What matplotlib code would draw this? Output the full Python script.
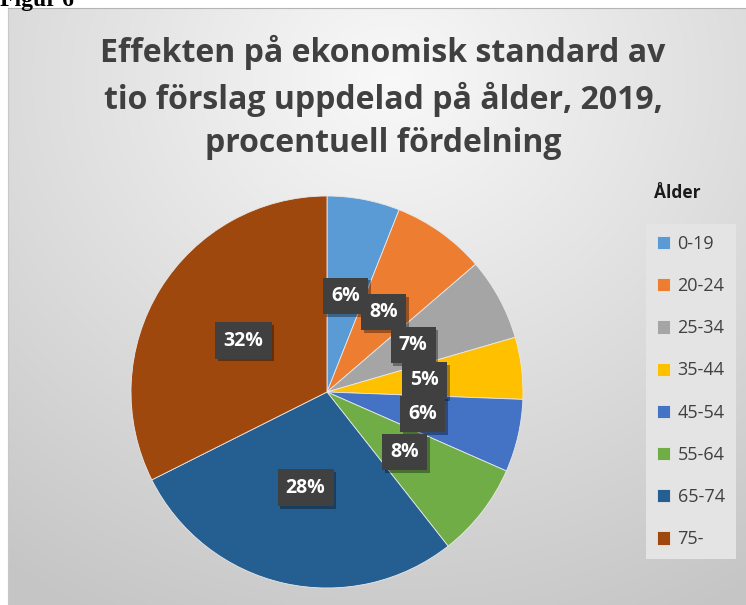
import numpy as np
import matplotlib
matplotlib.use('Agg')
import matplotlib.pyplot as plt
import matplotlib.patheffects as pe

# data
groups = ['0-19', '20-24', '25-34', '35-44', '45-54', '55-64', '65-74', '75-']
shares = [6.0, 7.7, 6.8, 5.1, 6.0, 7.8, 28.2, 32.4]
colors = ['#5b9bd5', '#ed7d31', '#a5a5a5', '#ffc000', '#4472c4',
          '#70ad47', '#255e91', '#9e480e']

title = 'Effekten på ekonomisk standard av\ntio förslag uppdelad på ålder, 2019,\nprocentuell fördelning'

W, H = 746, 605
fig = plt.figure(figsize=(W / 100, H / 100), dpi=100)
fig.patch.set_facecolor('white')

# chart area with soft radial gradient
bg = fig.add_axes([8 / W, 0, 1 - 8 / W, (H - 8) / H])
yy, xx = np.mgrid[0:1:300j, 0:1:370j]
d = np.sqrt(((xx - 0.52) * 1.0) ** 2 + ((yy - 0.12) * 0.9) ** 2)
g = 0.975 - 0.2 * np.clip(d / 0.9, 0, 1)
bg.imshow(np.dstack([g, g, g]), aspect='auto', extent=[0, 1, 1, 0])
bg.set_xticks([])
bg.set_yticks([])
for s in bg.spines.values():
    s.set_visible(False)
bg.spines['top'].set_visible(True)
bg.spines['top'].set_color('#b4b4b4')
bg.spines['left'].set_visible(True)
bg.spines['left'].set_color('#c8c8c8')

fig.text(0.0, 1 - 6 / H, 'Figur 6', family='Liberation Serif', weight='bold',
         fontsize=17, color='black', va='baseline', ha='left')

# pie
cx, cy, r = 327, 392, 196
ax = fig.add_axes([(cx - r) / W, (H - cy - r) / H, 2 * r / W, 2 * r / H])
wedges, texts, autotexts = ax.pie(
    shares, colors=colors, startangle=90, counterclock=False,
    autopct=lambda p: f'{p:.0f}%', pctdistance=0.5,
    wedgeprops=dict(edgecolor='#e8e8e8', linewidth=0.6))
ax.set_xlim(-1, 1)
ax.set_ylim(-1, 1)
for t in autotexts:
    t.set_color('white')
    t.set_family('Open Sans')
    t.set_weight('bold')
    t.set_fontsize(14)
    t.set_bbox(dict(boxstyle='square,pad=0.42', facecolor='#404040',
                    edgecolor='none',
                    path_effects=[pe.withSimplePatchShadow(offset=(2, -2),
                                                           shadow_rgbFace='black',
                                                           alpha=0.35)]))

fig.text(383 / W, 1 - 35 / H, title, ha='center', va='top', family='Open Sans',
         weight='bold', fontsize=23, color='#404040', linespacing=1.42)

fig.text(677 / W, 1 - 193 / H, 'Ålder', ha='center', va='center',
         family='Open Sans', weight='bold', fontsize=12.5, color='#1a1a1a')

leg = fig.legend(wedges, groups, loc='upper left',
                 bbox_to_anchor=(646 / W, 1 - 224 / H),
                 frameon=True, fancybox=False, framealpha=1,
                 facecolor='#e4e4e4', edgecolor='none',
                 prop=dict(family='Open Sans', size=13),
                 labelspacing=1.34, handlelength=0.75, handleheight=0.75,
                 handletextpad=0.4, borderpad=0.6, borderaxespad=0)
for t in leg.get_texts():
    t.set_color('#404040')

fig.savefig('out.png', dpi=100)
